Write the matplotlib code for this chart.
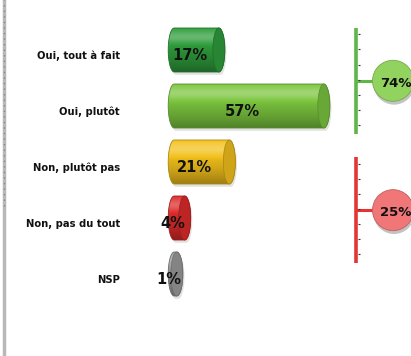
import matplotlib
matplotlib.use('Agg')
import matplotlib.pyplot as plt
import numpy as np
from matplotlib.patches import Ellipse, PathPatch
from matplotlib.path import Path
from matplotlib.colors import to_rgb
from matplotlib.lines import Line2D

categories = ['Oui, tout à fait', 'Oui, plutôt', 'Non, plutôt pas', 'Non, pas du tout', 'NSP']
values = [17, 57, 21, 4, 1]
bar_colors = ['#2f9d3c', '#7cc63f', '#f3c11c', '#de2b2b', '#9b9b9b']

# subtotals shown in the bubbles on the right: (first, last) category index
groups = [(0, 1), (2, 3)]
group_colors = ['#5db646', '#e53434']
bubble_colors = ['#92d35f', '#f07677']
bracket_centers = [0.55, 2.86]
bracket_half = 0.95

W, H = 411, 356
PX = 2.625      # pixels per percent
X0 = 174.2      # pixel position of 0 %
ROW = 56        # pixels per category row
Y0 = 50         # pixel position of first row

fig = plt.figure(figsize=(W / 100, H / 100), dpi=100)
ax = fig.add_axes([0, 0, 1, 1])
ax.set_xlim(-X0 / PX, (W - X0) / PX)
ax.set_ylim((H - Y0) / ROW, -Y0 / ROW)
ax.axis('off')

rx = 6.0 / PX
ry = 22.0 / ROW


def shade_colors(base, n=64):
    base = np.array(to_rgb(base))
    s = np.linspace(0, 1, n)
    k = 0.28 * np.exp(-((s - 0.2) / 0.15) ** 2) - 0.35 * s ** 2
    out = np.empty((n, 1, 3))
    for i, kk in enumerate(k):
        if kk >= 0:
            out[i, 0] = base + (1 - base) * kk
        else:
            out[i, 0] = base * (1 + kk)
    return np.clip(out, 0, 1)


def cylinder(v, y, color):
    t1 = np.linspace(np.pi / 2, 3 * np.pi / 2, 40)
    t2 = np.linspace(-np.pi / 2, np.pi / 2, 40)
    left = np.column_stack([rx * np.cos(t1), y + ry * np.sin(t1)])
    right = np.column_stack([v + rx * np.cos(t2), y + ry * np.sin(t2)])
    verts = np.vstack([left, right, left[:1]])
    body = PathPatch(Path(verts), fc='none', ec='none', zorder=2)
    ax.add_patch(body)
    # soft drop shadow
    ax.add_patch(PathPatch(Path(verts + [0.6, 0.05]), fc='#cfcfcf', ec='none',
                           alpha=0.6, zorder=1))
    im = ax.imshow(shade_colors(color), extent=(-rx, v + rx, y + ry, y - ry),
                   aspect='auto', interpolation='bilinear', zorder=2)
    im.set_clip_path(body)
    edge = np.array(to_rgb(color)) * 0.7
    ax.add_patch(PathPatch(Path(verts), fc='none', ec=edge, lw=0.6, zorder=3))
    face = np.array(to_rgb(color)) * 0.85
    ax.add_patch(Ellipse((v, y), 2 * rx, 2 * ry, fc=face, ec=edge, lw=0.5, zorder=3))


for i, (cat, v, c) in enumerate(zip(categories, values, bar_colors)):
    cylinder(v, i, c)
    ax.text((120 - X0) / PX, i + 0.1, cat, ha='right', va='center',
            fontsize=7.2, fontweight='bold', color='#111111')
    ax.text(v / 2 - 2.7, i + 0.1, f'{v}%', ha='center', va='center',
            fontsize=10.5, fontweight='bold', color='#111111', zorder=5)

bx = (356 - X0) / PX
cx = (393 - X0) / PX
r_x = 20.5 / PX
r_y = 20.5 / ROW
for (i0, i1), yc, lc, bc in zip(groups, bracket_centers, group_colors, bubble_colors):
    total = sum(values[i0:i1 + 1])
    ax.plot([bx, bx], [yc - bracket_half, yc + bracket_half], color=lc, lw=2.6,
            solid_capstyle='butt', zorder=2)
    yt = np.arange(yc - bracket_half + 0.12, yc + bracket_half, 0.27)
    ax.plot([bx + 1.0] * len(yt), yt, ls='none', marker='_', ms=2, mew=0.8,
            color='#333333', zorder=3)
    ax.plot([bx, cx], [yc, yc], color=lc, lw=2.2, zorder=2)
    ax.add_patch(Ellipse((cx + 0.4, yc + 0.06), 2 * r_x, 2 * r_y, fc='#b5b5b5',
                         ec='none', alpha=0.8, zorder=3))
    ax.add_patch(Ellipse((cx, yc), 2 * r_x, 2 * r_y, fc=bc,
                         ec=np.array(to_rgb(bc)) * 0.8, lw=0.6, zorder=4))
    ax.text(cx + 1.0, yc + 0.05, f'{total}%', ha='center', va='center',
            fontsize=9.5, fontweight='bold', color='#111111', zorder=5)

# grey frame line on the left edge
fig.add_artist(Line2D([3.5 / W, 3.5 / W], [0, 1], color='#b8b8b8', lw=2.5))
fig.add_artist(Line2D([3.5 / W, 3.5 / W], [0.42, 1], color='#888888', lw=1,
                      ls=(0, (1, 3))))

fig.savefig('out.png', dpi=100, facecolor='white')
